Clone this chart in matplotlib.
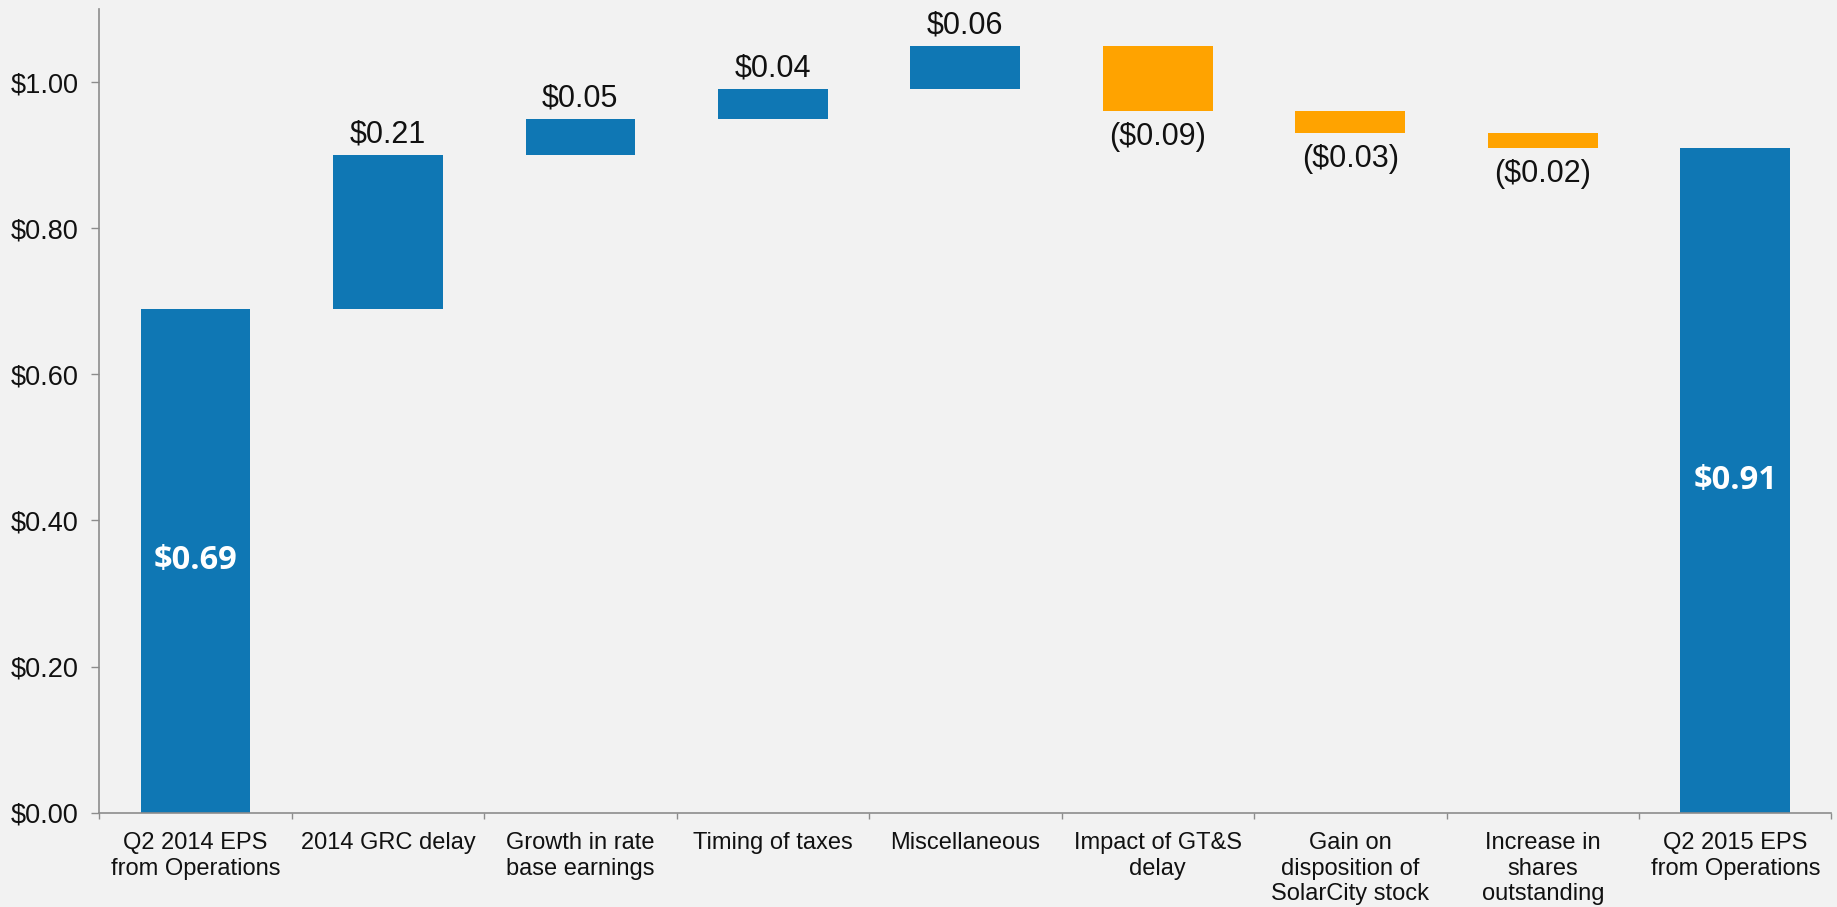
import numpy as np
import matplotlib
matplotlib.use("Agg")
import matplotlib.pyplot as plt
from matplotlib.ticker import FixedLocator, FuncFormatter

categories = ["Q2 2014 EPS\nfrom Operations", "2014 GRC delay", "Growth in rate\nbase earnings",
              "Timing of taxes", "Miscellaneous", "Impact of GT&S\ndelay",
              "Gain on\ndisposition of\nSolarCity stock", "Increase in\nshares\noutstanding",
              "Q2 2015 EPS\nfrom Operations"]
changes = [0.69, 0.21, 0.05, 0.04, 0.06, -0.09, -0.03, -0.02, 0.91]
is_total = [True, False, False, False, False, False, False, False, True]
y_ticks = [0.0, 0.2, 0.4, 0.6, 0.8, 1.0]

BLUE = "#0F77B4"
ORANGE = "#FFA300"
BG = "#F2F2F2"
GREY = "#8C8C8C"

plt.rcParams['font.family'] = ['Liberation Sans', 'DejaVu Sans']

# bottoms of the floating bars
bottoms = []
heights = []
running = 0.0
for v, tot in zip(changes, is_total):
    if tot:
        bottoms.append(0.0)
        heights.append(v)
        running = v
    else:
        if v >= 0:
            bottoms.append(running)
        else:
            bottoms.append(running + v)
        heights.append(abs(v))
        running = running + v

colors = [BLUE if v >= 0 else ORANGE for v in changes]
x = np.arange(len(categories))

fig = plt.figure(figsize=(18.37, 9.07), dpi=100, facecolor=BG)
ax = fig.add_axes([0.054, 0.104, 0.943, 0.886])
ax.set_facecolor(BG)

ax.bar(x, heights, bottom=bottoms, width=0.57, color=colors, zorder=2)

# value labels
for i, v in enumerate(changes):
    if is_total[i]:
        ax.text(x[i], heights[i] / 2, "${:.2f}".format(v), ha='center', va='center',
                color='white', fontsize=23.5, fontweight='bold', family='Open Sans', zorder=3)
    elif v >= 0:
        ax.annotate("${:.2f}".format(v), (x[i], bottoms[i] + heights[i]), xytext=(0, 4),
                    textcoords='offset points', ha='center', va='bottom', fontsize=22, color='#111111')
    else:
        ax.annotate("(${:.2f})".format(-v), (x[i], bottoms[i]), xytext=(0, -8),
                    textcoords='offset points', ha='center', va='top', fontsize=22, color='#111111')

ax.set_xlim(-0.5, len(categories) - 0.5)
ax.set_ylim(0, 1.1)

ax.set_yticks(y_ticks)
ax.yaxis.set_major_formatter(FuncFormatter(lambda v, p: "${:.2f}".format(v)))
ax.tick_params(axis='y', direction='out', length=6, width=1, color=GREY, pad=9,
               labelsize=19.5, labelcolor='#111111')

ax.set_xticks(x)
ax.set_xticklabels(categories, fontsize=17, linespacing=1.2, color='#111111')
ax.xaxis.set_minor_locator(FixedLocator(np.arange(-0.5, len(categories), 1.0)))
ax.tick_params(axis='x', which='major', length=0, pad=14)
ax.tick_params(axis='x', which='minor', direction='out', length=4, width=1, color=GREY)

for s in ['top', 'right']:
    ax.spines[s].set_visible(False)
for s in ['left', 'bottom']:
    ax.spines[s].set_color(GREY)
    ax.spines[s].set_linewidth(1.2)

fig.savefig("out.png", dpi=100, facecolor=BG)
